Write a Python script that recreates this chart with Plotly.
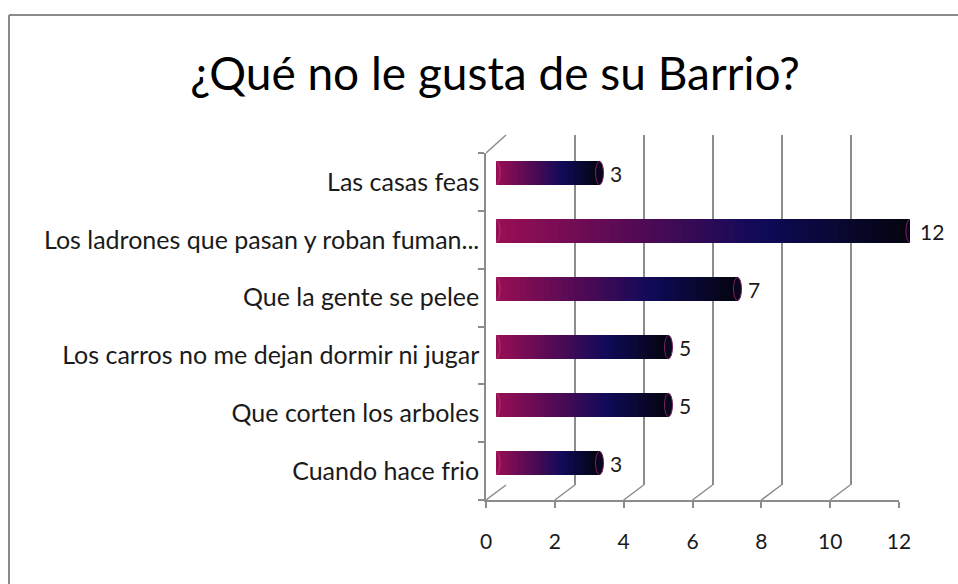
import plotly.graph_objects as go

# ---- data ----
categories = [
    "Las casas feas",
    "Los ladrones que pasan y roban fuman...",
    "Que la gente se pelee",
    "Los carros no me dejan dormir ni jugar",
    "Que corten los arboles",
    "Cuando hace frio",
]
values = [3, 12, 7, 5, 5, 3]
x_ticks = [0, 2, 4, 6, 8, 10, 12]
title_text = "¿Qué no le gusta de su Barrio?"

W, H = 958, 584
def px(x):
    return x / W
def py(y):
    return 1 - y / H

# gradient along each bar
stops = [(0.0, (150, 14, 84)), (0.35, (80, 10, 85)), (0.65, (14, 10, 88)), (1.0, (5, 5, 16))]
def grad(t):
    for (t0, c0), (t1, c1) in zip(stops[:-1], stops[1:]):
        if t0 <= t <= t1:
            f = (t - t0) / (t1 - t0)
            return "rgb(%d,%d,%d)" % tuple(round(a + (b - a) * f) for a, b in zip(c0, c1))
    return "rgb(%d,%d,%d)" % stops[-1][1]

N = 40
fig = go.Figure()
for i in range(N):
    fig.add_trace(go.Bar(
        x=[v / N for v in values], y=categories, orientation="h",
        xaxis="x3", yaxis="y3", marker=dict(color=grad(i / (N - 1)), line=dict(width=0)),
        width=0.4, showlegend=False, hoverinfo="skip"))

# invisible trace to establish front category axis
fig.add_trace(go.Scatter(x=[None] * len(categories), y=categories, xaxis="x", yaxis="y",
                         mode="lines", showlegend=False, hoverinfo="skip"))
# back-plane axis holder
fig.add_trace(go.Scatter(x=[None], y=[None], xaxis="x2", yaxis="y2", mode="lines",
                         showlegend=False, hoverinfo="skip"))

grid_col = "#8c8c8c"
txt_col = "#1a1a1a"
font_fam = "Lato, 'Open Sans', sans-serif"
n_cat = len(categories)

annotations = []
for c, v in zip(categories, values):
    annotations.append(dict(x=v, y=c, xref="x3", yref="y3", text=str(v), showarrow=False,
                            xanchor="left", xshift=8, font=dict(size=21, color=txt_col, family=font_fam)))

shapes = []
# cylinder end caps, anchored at each bar's start and end value
cat_idx = {c: k for k, c in enumerate(categories[::-1])}
for c, v in zip(categories, values):
    k = cat_idx[c]
    shapes.append(dict(type="circle", xref="x3", yref="y3", xsizemode="pixel", xanchor=0,
                       x0=-4, x1=4, y0=k - 0.2, y1=k + 0.2,
                       fillcolor="rgb(150,14,84)", line=dict(color="rgb(175,55,115)", width=1)))
    shapes.append(dict(type="circle", xref="x3", yref="y3", xsizemode="pixel", xanchor=v,
                       x0=-4, x1=4, y0=k - 0.2, y1=k + 0.2,
                       fillcolor="rgb(10,6,30)", line=dict(color="rgb(120,35,95)", width=1)))
# diagonals from front floor to back plane
for t in x_ticks:
    shapes.append(dict(type="line", xref="x", yref="paper", xsizemode="pixel", ysizemode="pixel",
                       xanchor=t, yanchor=py(500), x0=0, x1=20, y0=0, y1=15,
                       line=dict(color=grid_col, width=1.5)))
# top-left wall corner
shapes.append(dict(type="line", xref="x", yref="paper", xsizemode="pixel", ysizemode="pixel",
                   xanchor=0, yanchor=py(153), x0=0, x1=20, y0=0, y1=18,
                   line=dict(color=grid_col, width=1.5)))
# outer border (top and left edges visible in frame)
shapes.append(dict(type="line", xref="paper", yref="paper", x0=px(9), y0=py(15), x1=1.0, y1=py(15),
                   line=dict(color="#8a8a8a", width=2)))
shapes.append(dict(type="line", xref="paper", yref="paper", x0=px(9), y0=py(15), x1=px(9), y1=0.0,
                   line=dict(color="#8a8a8a", width=2)))

hidden = dict(showgrid=False, zeroline=False, showticklabels=False, ticks="", showline=False,
              automargin=False)

fig.update_layout(
    template="none",
    width=W, height=H, autosize=False,
    margin=dict(l=0, r=0, t=0, b=0, pad=0),
    paper_bgcolor="white", plot_bgcolor="rgba(0,0,0,0)",
    barmode="stack", bargap=0.6,
    title=dict(text=title_text, x=px(495), y=py(74), xanchor="center", yanchor="middle",
               automargin=False, font=dict(size=46, color="black", family=font_fam)),
    font=dict(family=font_fam, color=txt_col),
    xaxis=dict(domain=[px(486), px(899)], anchor="y", range=[0, 12], tickvals=x_ticks,
               showgrid=False, zeroline=False, showline=True, linecolor=grid_col, linewidth=1.5,
               ticks="outside", ticklen=6, tickcolor=grid_col, tickwidth=1.5, automargin=False,
               ticklabelstandoff=16, tickfont=dict(size=21, color=txt_col)),
    yaxis=dict(domain=[py(500), py(153)], anchor="x", type="category",
               categoryorder="array", categoryarray=categories[::-1], range=[-0.5, n_cat - 0.5],
               showgrid=False, zeroline=False, showline=True, linecolor=grid_col, linewidth=1.5,
               ticks="outside", tickson="boundaries", ticklen=6, tickcolor=grid_col, tickwidth=1.5,
               automargin=False, ticklabelstandoff=0, tickfont=dict(size=25, color=txt_col)),
    xaxis2=dict(domain=[px(506), px(920)], anchor="y2", range=[0, 12], tickvals=x_ticks,
                showgrid=True, gridcolor=grid_col, gridwidth=1.5, zeroline=False,
                showticklabels=False, ticks="", showline=False, automargin=False),
    yaxis2=dict(domain=[py(485), py(135)], anchor="x2", range=[0, 1], **hidden),
    xaxis3=dict(domain=[px(496), px(910)], anchor="y3", range=[0, 12], **hidden),
    yaxis3=dict(domain=[py(492), py(144)], anchor="x3", type="category",
                categoryorder="array", categoryarray=categories[::-1], range=[-0.5, n_cat - 0.5],
                **hidden),
    annotations=annotations,
    shapes=shapes,
)

fig.write_html("out.html", config={"displayModeBar": False},
               post_script="document.body.style.margin='0';document.body.style.overflow='hidden';")
